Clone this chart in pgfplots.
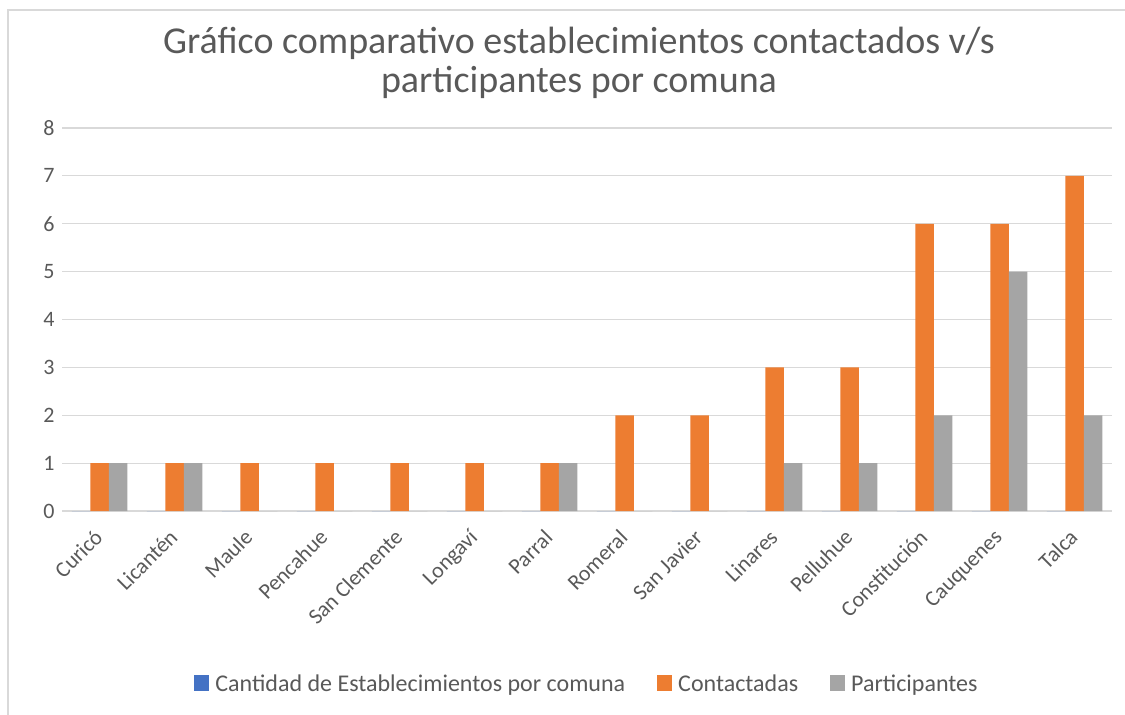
\documentclass[border=0pt]{standalone}
\usepackage{pgfplots}
\pgfplotsset{compat=1.18}
\usepackage{fontspec}
\setmainfont{Carlito}
\definecolor{cblue}{HTML}{4472C4}
\definecolor{corange}{HTML}{ED7D31}
\definecolor{cgray}{HTML}{A5A5A5}
\definecolor{ctext}{HTML}{595959}
\definecolor{cgrid}{HTML}{D9D9D9}
\begin{document}
\begin{tikzpicture}
\path[use as bounding box] (0pt,0pt) rectangle (1125pt,-715pt);
\draw[cgrid, line width=1.2pt] (8pt,-716pt) -- (8pt,-10pt) -- (1126pt,-10pt);
\node[text=ctext, font=\fontsize{38}{39}\selectfont, align=center, anchor=north] at (579pt,-24pt) {Gráfico comparativo establecimientos contactados v/s\\participantes por comuna};
\begin{axis}[
  at={(62pt,-511pt)}, anchor=south west,
  scale only axis, width=1050pt, height=383pt,
  xmin=-0.5, xmax=13.5, ymin=0, ymax=8,
  ybar, bar width=18.5pt,
  xtick={0,...,13},
  xticklabels={Curicó,Licantén,Maule,Pencahue,San Clemente,Longaví,Parral,Romeral,San Javier,Linares,Pelluhue,Constitución,Cauquenes,Talca},
  ytick={0,...,8},
  ymajorgrids, grid style={cgrid, line width=1.2pt},
  axis line style={draw=none},
  major tick length=0pt,
  tick style={draw=none},
  /pgf/number format/assume math mode=true,
  ticklabel style={text=ctext, font=\fontsize{22}{26}\selectfont},
  xticklabel style={rotate=45, anchor=north east, inner sep=2pt, xshift=-14.5pt, yshift=-5.5pt},
  yticklabel style={xshift=-4pt},
  legend style={at={(0.5,0)}, anchor=center, yshift=-173pt, draw=none, fill=none,
    legend columns=3, font=\fontsize{24}{28}\selectfont, text=ctext,
    /tikz/every even column/.append style={column sep=30pt},
    /tikz/every odd column/.append style={column sep=4pt}},
  legend image code/.code={\fill[#1] (0pt,-7pt) rectangle (15pt,9pt);},
  clip=false,
]
\addplot[fill=cblue, draw=none, bar shift=-18.5pt] coordinates {(0,0) (1,0) (2,0) (3,0) (4,0) (5,0) (6,0) (7,0) (8,0) (9,0) (10,0) (11,0) (12,0) (13,0)};
\addplot[fill=corange, draw=none, bar shift=0pt] coordinates {(0,1) (1,1) (2,1) (3,1) (4,1) (5,1) (6,1) (7,2) (8,2) (9,3) (10,3) (11,6) (12,6) (13,7)};
\addplot[fill=cgray, draw=none, bar shift=18.5pt] coordinates {(0,1) (1,1) (2,0) (3,0) (4,0) (5,0) (6,1) (7,0) (8,0) (9,1) (10,1) (11,2) (12,5) (13,2)};
\legend{Cantidad de Establecimientos por comuna, Contactadas, Participantes}
\end{axis}
\end{tikzpicture}
\end{document}
